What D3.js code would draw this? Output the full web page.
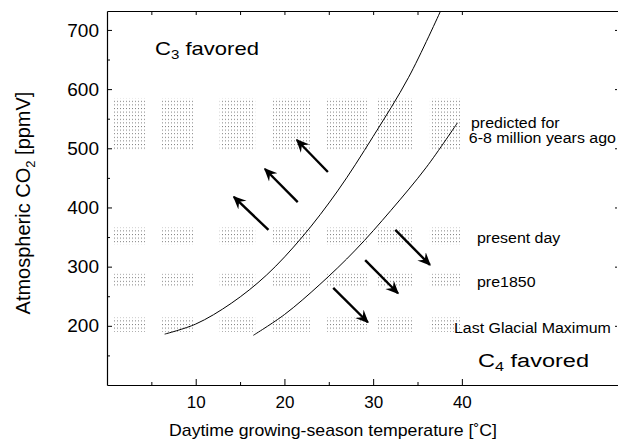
<!DOCTYPE html>
<html>
<head>
<meta charset="utf-8">
<script src="https://cdn.jsdelivr.net/npm/d3@7"></script>
<style>
  html, body { margin: 0; padding: 0; background: #fff; }
  svg { display: block; font-family: "Liberation Sans", Arial, Helvetica, sans-serif; }
</style>
</head>
<body>
<svg id="chart" width="618" height="445"></svg>
<script>
// Temperature (°C) and CO2 (ppmV) ticks
const tempTicks = [10, 20, 30, 40];
const tempMinorTicks = [5, 15, 25, 35];
const co2Ticks = [200, 300, 400, 500, 600, 700];
const co2MinorTicks = [150, 250, 350, 450, 550, 650];

// Crossover curves: C3/C4 boundary for the two quantum-yield models
const boundaryATemp = [6.5, 10, 14, 18, 22, 26, 30, 34, 37.6];
const boundaryACo2  = [186, 203, 238, 286, 350, 428, 520, 620, 732];
const boundaryBTemp = [16.5, 20, 24, 28, 32, 36, 39.5];
const boundaryBCo2  = [184, 219, 270, 328, 395, 468, 543];

// Growing-season temperature bands (°C) sampled for each CO2 scenario
const bandLow  = [0.7, 6.2, 12.7, 18.7, 24.8, 30.4, 36.4];
const bandHigh = [4.3, 9.7, 16.7, 22.9, 29.3, 34.5, 40.0];

// CO2 scenarios: names and ranges (ppmV)
const scenarioNames = ["predicted for|6-8 million years ago", "present day", "pre1850", "Last Glacial Maximum"];
const scenarioLow  = [497, 337, 265, 190];
const scenarioHigh = [585, 366, 288, 214];

// Shift arrows: [tempFrom, co2From, tempTo, co2To]
const arrowsToC3 = [[24.9, 460, 21.4, 514], [21.5, 409, 17.8, 465], [18.2, 362, 14.3, 418]];
const arrowsToC4 = [[32.5, 362, 36.4, 303], [29.1, 311, 32.8, 255], [25.5, 264, 29.4, 206]];

const svg = d3.select("#chart");
const x = d3.scaleLinear().domain([0, 57.6]).range([107, 618]);
const y = d3.scaleLinear().domain([100, 732]).range([385, 11]);

const defs = svg.append("defs");
const pat = defs.append("pattern")
  .attr("id", "stipple").attr("patternUnits", "userSpaceOnUse")
  .attr("width", 3).attr("height", 3.6);
pat.append("rect").attr("x", 0).attr("y", 0).attr("width", 1).attr("height", 1).attr("fill", "#808080");

defs.append("marker")
  .attr("id", "head").attr("viewBox", "0 0 10 10")
  .attr("refX", 9).attr("refY", 5)
  .attr("markerWidth", 5.5).attr("markerHeight", 5.5)
  .attr("orient", "auto")
  .attr("markerUnits", "strokeWidth")
  .append("path").attr("d", "M0,0.5 L10,5 L0,9.5 L3.5,5 Z").attr("fill", "#000");

// stippled scenario patches
const patches = [];
scenarioLow.forEach((lo, r) => {
  bandLow.forEach((tl, c) => patches.push({ lo, hi: scenarioHigh[r], tl, th: bandHigh[c] }));
});
svg.append("g").selectAll("rect").data(patches).join("rect")
  .attr("x", d => x(d.tl)).attr("width", d => x(d.th) - x(d.tl))
  .attr("y", d => y(d.hi)).attr("height", d => y(d.lo) - y(d.hi))
  .attr("fill", "url(#stipple)");

// boundary curves
const line = d3.line().x(d => x(d[0])).y(d => y(d[1])).curve(d3.curveCatmullRom.alpha(0.5));
svg.append("path").datum(boundaryATemp.map((t, i) => [t, boundaryACo2[i]]))
  .attr("d", line).attr("fill", "none").attr("stroke", "#000").attr("stroke-width", 1);
svg.append("path").datum(boundaryBTemp.map((t, i) => [t, boundaryBCo2[i]]))
  .attr("d", line).attr("fill", "none").attr("stroke", "#000").attr("stroke-width", 1);

// arrows
svg.append("g").selectAll("line").data(arrowsToC3.concat(arrowsToC4)).join("line")
  .attr("x1", d => x(d[0])).attr("y1", d => y(d[1]))
  .attr("x2", d => x(d[2])).attr("y2", d => y(d[3]))
  .attr("stroke", "#000").attr("stroke-width", 2.4)
  .attr("marker-end", "url(#head)");

// axes
function styleAxis(g) {
  g.selectAll("path.domain").attr("stroke", "#000").attr("stroke-width", 1.2);
  g.selectAll(".tick line").attr("stroke", "#000").attr("stroke-width", 1);
}
const axBottom = svg.append("g").attr("transform", `translate(0,${y(100)})`)
  .call(d3.axisBottom(x).tickValues(tempTicks).tickSizeInner(-6).tickSizeOuter(0).tickPadding(11));
styleAxis(axBottom);
axBottom.selectAll("text").attr("font-size", 17).attr("fill", "#000").attr("font-family", null);
const axBottomMinor = svg.append("g").attr("transform", `translate(0,${y(100)})`)
  .call(d3.axisBottom(x).tickValues(tempMinorTicks).tickSizeInner(-3).tickSizeOuter(0).tickFormat(""));
axBottomMinor.select(".domain").remove(); styleAxis(axBottomMinor);

const axTop = svg.append("g").attr("transform", `translate(0,${y(732)})`)
  .call(d3.axisTop(x).tickValues(tempMinorTicks.concat(tempTicks)).tickSizeInner(-4).tickSizeOuter(0).tickFormat(""));
styleAxis(axTop);

const axLeft = svg.append("g").attr("transform", `translate(${x(0)},0)`)
  .call(d3.axisLeft(y).tickValues(co2Ticks).tickSizeInner(-5).tickSizeOuter(0).tickPadding(8));
styleAxis(axLeft);
axLeft.selectAll("text").attr("font-size", 19).attr("fill", "#000").attr("font-family", null);
const axLeftMinor = svg.append("g").attr("transform", `translate(${x(0)},0)`)
  .call(d3.axisLeft(y).tickValues(co2MinorTicks).tickSizeInner(-3).tickSizeOuter(0).tickFormat(""));
axLeftMinor.select(".domain").remove(); styleAxis(axLeftMinor);

const axRight = svg.append("g").attr("transform", `translate(617,0)`)
  .call(d3.axisRight(y).tickValues(co2Ticks).tickSizeInner(-2).tickSizeOuter(0).tickFormat(""));
axRight.select(".domain").remove(); styleAxis(axRight);

// axis titles
svg.append("text").attr("transform", "translate(333,436) scale(1.04,1)").attr("text-anchor", "middle")
  .attr("font-size", 17).text("Daytime growing-season temperature [˚C]");
const yt = svg.append("text").attr("transform", "translate(30,203) rotate(-90)")
  .attr("text-anchor", "middle").attr("font-size", 20);
yt.append("tspan").text("Atmospheric CO");
yt.append("tspan").attr("font-size", 13).attr("dy", 5).text("2");
yt.append("tspan").attr("dy", -5).text(" [ppmV]");

// region labels (set slightly wide)
function regionLabel(px, py, sub, sx) {
  const t = svg.append("text").attr("transform", `translate(${px},${py}) scale(${sx},1)`).attr("font-size", 19);
  t.append("tspan").text("C");
  t.append("tspan").attr("font-size", 13).attr("dy", 4).text(sub);
  t.append("tspan").attr("dy", -4).text(" favored");
}
regionLabel(155, 55, "3", 1.16);
regionLabel(478, 367, "4", 1.24);

// scenario labels
const labelX = [471, 477, 477, 454];
const labelY = [128, 243, 287, 333];
scenarioNames.forEach((name, i) => {
  const t = svg.append("text").attr("transform", `translate(${labelX[i]},${labelY[i]}) scale(1.1,1)`)
    .attr("font-size", 14.5);
  name.split("|").forEach((part, j) => {
    t.append("tspan").attr("x", j ? -2 : 0).attr("dy", j ? 15 : 0).text(part);
  });
});
</script>
</body>
</html>
